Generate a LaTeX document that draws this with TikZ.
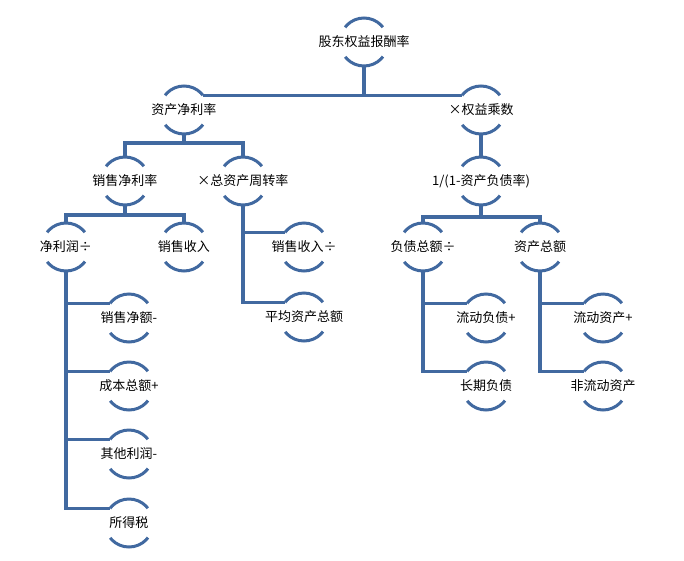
\documentclass[tikz,border=0pt]{standalone}
\usepackage{fontspec}
\newfontfamily\cjk{Noto Sans CJK SC}
\usepackage{tikz}
\definecolor{linkblue}{RGB}{65,105,160}
\tikzstyle{ring} = [circle, minimum size=48pt, inner sep=0pt, outer sep=0pt, draw=linkblue, line width=3pt, dash pattern=on 43.56pt off 31.84pt, dash phase=59.48pt]
\tikzstyle{link} = [draw=linkblue, line width=3.2pt]
\tikzstyle{every label} = [rectangle, draw=none, solid, inner sep=0pt, text=black, font=\cjk\fontsize{13pt}{15pt}\selectfont]

\begin{document}
\begin{tikzpicture}[x=1pt, y=1pt]
\useasboundingbox (-364,42) rectangle (320,-518);

\node (root) [ring, label=center:股东权益报酬率] {};

\node (netAsset) [ring, below of=root, node distance=68pt, xshift=-180pt, label=center:资产净利率] {};
\node (equity) [ring, right of=netAsset, node distance=297pt, label=center:×权益乘数] {};
\node (salesMargin) [ring, below of=netAsset, node distance=71pt, xshift=-59pt, label=center:销售净利率] {};
\node (turnover) [ring, right of=salesMargin, node distance=118pt, label=center:×总资产周转率] {};
\node (debtRatio) [ring, below of=equity, node distance=71pt, label=center:1/(1-资产负债率)] {};

\node (netProfit) [ring, below of=salesMargin, node distance=66pt, xshift=-59pt, label=center:净利润÷] {};
\node (salesIncome) [ring, right of=netProfit, node distance=118pt, label=center:销售收入] {};
\node (salesIncomeB) [ring, below of=turnover, node distance=66pt, xshift=61pt, label=center:销售收入÷] {};
\node (avgAsset) [ring, below of=salesIncomeB, node distance=70pt, label=center:平均资产总额] {};
\node (debtTotal) [ring, below of=debtRatio, node distance=66pt, xshift=-58pt, label=center:负债总额÷] {};
\node (assetTotal) [ring, right of=debtTotal, node distance=117pt, label=center:资产总额] {};

\node (salesNet) [ring, below of=netProfit, node distance=71pt, xshift=63pt, label=center:销售净额-] {};
\node (costTotal) [ring, below of=salesNet, node distance=68pt, label=center:成本总额+] {};
\node (otherProfit) [ring, below of=costTotal, node distance=68pt, label=center:其他利润-] {};
\node (incomeTax) [ring, below of=otherProfit, node distance=69pt, label=center:所得税] {};
\node (curDebt) [ring, below of=debtTotal, node distance=71pt, xshift=63pt, label=center:流动负债+] {};
\node (longDebt) [ring, below of=curDebt, node distance=68pt, label=center:长期负债] {};
\node (curAsset) [ring, below of=assetTotal, node distance=71pt, xshift=63pt, label=center:流动资产+] {};
\node (fixAsset) [ring, below of=curAsset, node distance=68pt, label=center:非流动资产] {};

\draw [link] (root.south) |- (netAsset.38);
\draw [link] (root.south) |- (equity.142);
\draw [link] (equity.south) -- (debtRatio.north);
\draw [link] (netAsset.south) -- ++(0,-9) -| (salesMargin.north);
\draw [link] (netAsset.south) -- ++(0,-9) -| (turnover.north);
\draw [link] (salesMargin.south) -- ++(0,-10) -| (netProfit.north);
\draw [link] (salesMargin.south) -- ++(0,-10) -| (salesIncome.north);
\draw [link] (debtRatio.south) -- ++(0,-12) -| (debtTotal.north);
\draw [link] (debtRatio.south) -- ++(0,-12) -| (assetTotal.north);
\draw [link] (netProfit.south) |- (salesNet.142);
\draw [link] (netProfit.south) |- (costTotal.142);
\draw [link] (netProfit.south) |- (otherProfit.142);
\draw [link] (netProfit.south) |- (incomeTax.142);
\draw [link] (turnover.south) |- (salesIncomeB.142);
\draw [link] (turnover.south) |- (avgAsset.142);
\draw [link] (debtTotal.south) |- (curDebt.142);
\draw [link] (debtTotal.south) |- (longDebt.142);
\draw [link] (assetTotal.south) |- (curAsset.142);
\draw [link] (assetTotal.south) |- (fixAsset.142);
\end{tikzpicture}
\end{document}
